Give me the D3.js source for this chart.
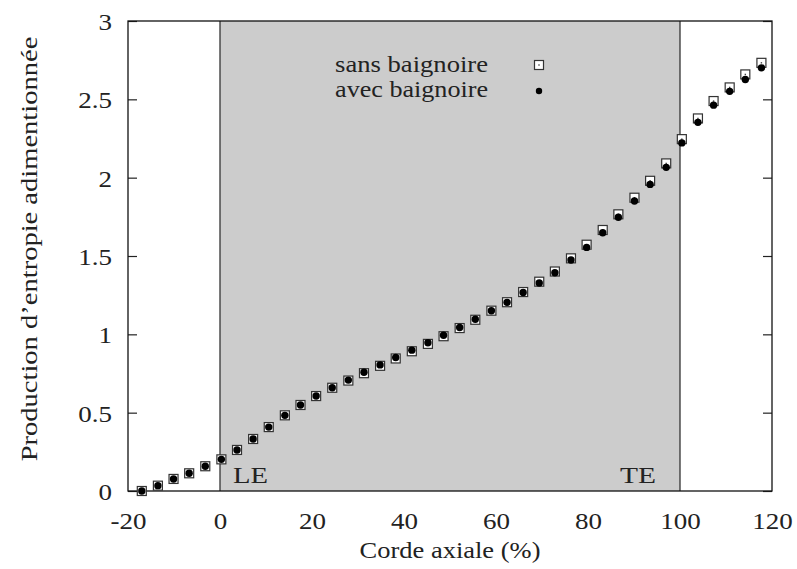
<!DOCTYPE html>
<html><head><meta charset="utf-8">
<script src="https://cdn.jsdelivr.net/npm/d3@7"></script>
<style>body{margin:0;background:#fff}svg{display:block}text{font-family:"Liberation Serif","Times New Roman",serif;fill:#222}</style>
</head><body>
<script>
const corde = [-17.0,-13.5,-10.1,-6.7,-3.2,0.3,3.7,7.2,10.6,14.1,17.5,20.9,24.4,27.9,31.3,34.8,38.2,41.7,45.2,48.6,52.1,55.5,59.0,62.4,65.9,69.4,72.8,76.3,79.7,83.2,86.6,90.1,93.5,97.0,100.4,103.9,107.3,110.8,114.2,117.7];
const sansBaignoire = [0.000,0.034,0.077,0.113,0.158,0.202,0.262,0.332,0.408,0.483,0.549,0.606,0.659,0.705,0.752,0.799,0.846,0.892,0.939,0.988,1.040,1.093,1.151,1.205,1.270,1.336,1.401,1.485,1.572,1.666,1.766,1.872,1.980,2.091,2.246,2.378,2.489,2.576,2.659,2.733];
const avecBaignoire = [0.000,0.034,0.077,0.113,0.158,0.202,0.262,0.332,0.408,0.483,0.549,0.606,0.659,0.708,0.758,0.805,0.852,0.899,0.946,0.994,1.044,1.096,1.151,1.204,1.267,1.328,1.393,1.474,1.555,1.648,1.747,1.851,1.957,2.066,2.222,2.353,2.463,2.551,2.627,2.701];
const xTicks = [-20,0,20,40,60,80,100,120];
const xTickLabels = ["-20","0","20","40","60","80","100","120"];
const yTicks = [0,0.5,1,1.5,2,2.5,3];
const yTickLabels = ["0","0.5","1","1.5","2","2.5","3"];
const bladeRange = [0,100];
const seriesNames = ["sans baignoire","avec baignoire"];

const W=797,H=569;
const svg=d3.select("body").append("svg").attr("width",W).attr("height",H);
const x=d3.scaleLinear().domain([-20,120]).range([128,772]);
const y=d3.scaleLinear().domain([0,3]).range([491,21]);
const fs=23.5, stretch=1.15;

svg.append("rect").attr("x",x(bladeRange[0])).attr("y",y(3)).attr("width",x(bladeRange[1])-x(bladeRange[0])).attr("height",y(0)-y(3)).attr("fill","#cccccc");
bladeRange.forEach(v=>svg.append("line").attr("x1",x(v)).attr("x2",x(v)).attr("y1",y(0)).attr("y2",y(3)).attr("stroke","#333").attr("stroke-width",1.3));

const yAxisL=d3.axisLeft(y).tickValues(yTicks).tickSize(-9).tickPadding(16).tickFormat((d,i)=>yTickLabels[i]);
const gL=svg.append("g").attr("transform",`translate(${x(-20)},0)`).call(yAxisL);
const yAxisR=d3.axisRight(y).tickValues(yTicks).tickSize(-9).tickFormat("");
const gR=svg.append("g").attr("transform",`translate(${x(120)},0)`).call(yAxisR);
const xAxisB=d3.axisBottom(x).tickValues(xTicks).tickSize(0).tickPadding(21).tickFormat((d,i)=>xTickLabels[i]);
const gB=svg.append("g").attr("transform",`translate(0,${y(0)})`).call(xAxisB);
[gL,gR,gB].forEach(g=>{g.select(".domain").remove();g.selectAll("line").attr("stroke","#222").attr("stroke-width",1.2);g.selectAll("text").attr("font-size",fs).attr("font-family","Liberation Serif").attr("fill","#222");});
gL.selectAll("text").attr("dy","0.36em");
[gL,gB].forEach(g=>g.selectAll("text").each(function(){const t=d3.select(this);const xv=+t.attr("x")||0;t.attr("x",xv/stretch).attr("transform",`scale(${stretch},1)`);}));

svg.append("rect").attr("x",x(-20)).attr("y",y(3)).attr("width",x(120)-x(-20)).attr("height",y(0)-y(3)).attr("fill","none").attr("stroke","#111").attr("stroke-width",1.3);

function label(xp,yp,txt,len,anchor,rot){
  const t=svg.append("text").attr("font-size",fs).attr("text-anchor",anchor||"start").text(txt);
  const s=len/t.node().getComputedTextLength();
  t.attr("transform",`translate(${xp},${yp})${rot?` rotate(${rot})`:""} scale(${s},1)`);
  return t;
}
label(x(bladeRange[0])+13,483,"LE",35);
label(x(bladeRange[1])-60,483,"TE",36);
label(450,558,"Corde axiale (%)",181,"middle");
label(37,249,"Production d’entropie adimentionnée",425,"middle",-90);

const sq=5;
function square(g,cx,cy){
  g.append("rect").attr("x",cx-sq+0.5).attr("y",cy-sq+0.5).attr("width",2*sq-1).attr("height",2*sq-1).attr("fill","#fff").attr("stroke","#333").attr("stroke-width",1.2);
  g.append("rect").attr("x",cx-0.7).attr("y",cy-0.7).attr("width",1.4).attr("height",1.4).attr("fill","#444");
}
const gs=svg.append("g");
corde.forEach((c,i)=>square(gs,x(c),y(sansBaignoire[i])));
svg.append("g").selectAll("circle").data(corde).join("circle").attr("cx",d=>x(d)).attr("cy",(d,i)=>y(avecBaignoire[i])).attr("r",3.7).attr("fill","#000");

label(488,72,seriesNames[0],153,"end");
label(488,97,seriesNames[1],153,"end");
square(svg,539,65);
svg.append("circle").attr("cx",539).attr("cy",91).attr("r",3.2).attr("fill","#000");
</script>
</body></html>
